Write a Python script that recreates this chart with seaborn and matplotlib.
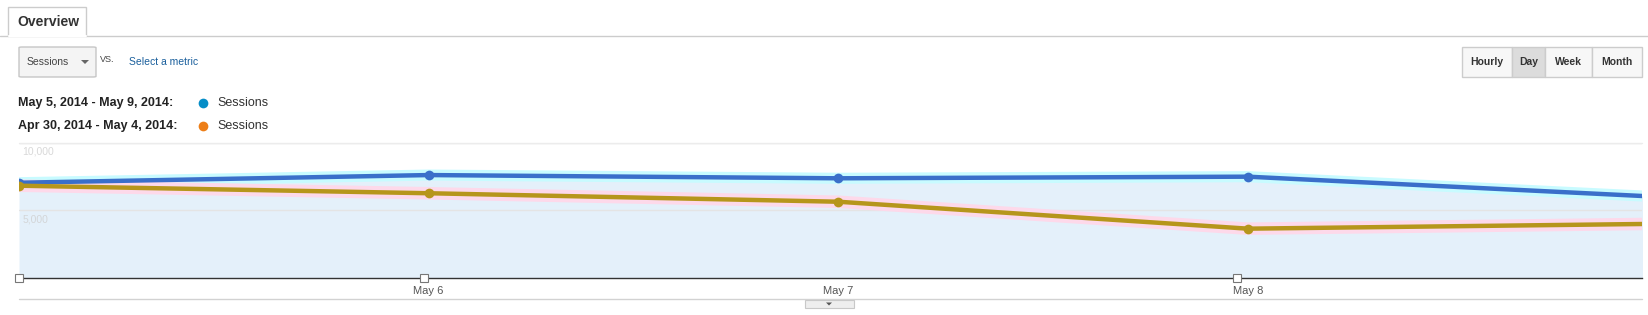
import numpy as np
import pandas as pd
import matplotlib
matplotlib.use("Agg")
import matplotlib.pyplot as plt
import seaborn as sns
from matplotlib.patches import Rectangle, FancyBboxPatch, Polygon
from matplotlib.lines import Line2D

# ---------------- data ----------------
dates = ["2014-05-05", "2014-05-06", "2014-05-07", "2014-05-08", "2014-05-09"]
current_sessions = [7050, 7620, 7380, 7500, 6010]
previous_sessions = [6830, 6270, 5640, 3640, 4000]
x_tick_dates = ["2014-05-06", "2014-05-07", "2014-05-08"]
x_tick_labels = ["May 6", "May 7", "May 8"]
annotation_dates = ["2014-05-05 00:00", "2014-05-05 23:45", "2014-05-07 23:20"]
y_ticks = [5000, 10000]
y_tick_labels = ["5,000", "10,000"]
range_labels = ["May 5, 2014 - May 9, 2014:", "Apr 30, 2014 - May 4, 2014:"]
metric_name = "Sessions"
granularity = ["Hourly", "Day", "Week", "Month"]
selected_granularity = "Day"

W, H = 1648, 315

def fx(x):
    return x / W

def fy(y):
    return 1 - y / H

sns.set_theme(style="white")
plt.rcParams['font.family'] = ['Liberation Sans', 'DejaVu Sans']

df = pd.DataFrame({
    "date": pd.to_datetime(dates),
    "current": current_sessions,
    "previous": previous_sessions,
})

fig = plt.figure(figsize=(W / 100, H / 100), dpi=100)
fig.patch.set_facecolor("white")

# ---------------- chart axes ----------------
ax = fig.add_axes([fx(19), fy(277.7), (1641.7 - 19) / W, (277.7 - 143) / H])
ax.set_facecolor("white")

ax.fill_between(df["date"], df["current"], 0, color="#e4f0fa", zorder=1, linewidth=0)
sns.lineplot(data=df, x="date", y="current", ax=ax, color="#c8fbff", linewidth=8,
             zorder=2, legend=False)
sns.lineplot(data=df, x="date", y="previous", ax=ax, color="#fdd9ea", linewidth=9,
             zorder=2, legend=False)
sns.lineplot(data=df, x="date", y="current", ax=ax, color="#3a6fca", linewidth=3.2,
             marker="o", markersize=7, markeredgewidth=0, zorder=4, legend=False)
sns.lineplot(data=df, x="date", y="previous", ax=ax, color="#b6961b", linewidth=3.2,
             marker="o", markersize=7, markeredgewidth=0, zorder=5, legend=False)

ax.set_xlim(df["date"].iloc[0], df["date"].iloc[3] + pd.Timedelta(days=0.9614))
ax.set_ylim(0, 10000)
ax.set_xlabel("")
ax.set_ylabel("")
ax.set_yticks([])
ax.set_xticks(pd.to_datetime(x_tick_dates))
ax.set_xticklabels(x_tick_labels, fontsize=8, color="#555555")
ax.tick_params(axis="x", length=0, pad=6)
for s in ["top", "left", "right"]:
    ax.spines[s].set_visible(False)
ax.spines["bottom"].set_color("#333333")
ax.spines["bottom"].set_linewidth(1.0)

for yt in y_ticks:
    ax.axhline(yt, color="#e4e4e4", linewidth=1.0, zorder=1.5)
ax.axhline(10000, color="#ececec", linewidth=1.0, zorder=1.5, clip_on=False)
for yt, lab in zip(y_ticks, y_tick_labels):
    ax.text(0.002, yt - 650, lab, transform=ax.get_yaxis_transform(),
            fontsize=7.5, color="#cfcfcf", va="center", ha="left", zorder=6,
            alpha=0.8)

ax.plot(pd.to_datetime(annotation_dates), [0] * len(annotation_dates),
        linestyle="none", marker="s", markersize=6, markerfacecolor="white",
        markeredgecolor="#777777", markeredgewidth=0.8, clip_on=False, zorder=7)

# ---------------- UI chrome ----------------
fig.add_artist(Line2D([0, fx(8)], [fy(36), fy(36)], color="#cccccc", lw=1))
fig.add_artist(Line2D([fx(86), 1], [fy(36), fy(36)], color="#cccccc", lw=1))
fig.add_artist(Rectangle((fx(8), fy(36)), fx(86) - fx(8), fy(7) - fy(36),
                         facecolor="#ffffff", edgecolor="#cccccc", lw=1))
fig.add_artist(Line2D([fx(8.5), fx(85.5)], [fy(36), fy(36)], color="white", lw=1.5))
fig.text(fx(17), fy(22), "Overview", fontsize=10, color="#333333", va="center",
         ha="left", fontweight="bold")

fig.add_artist(FancyBboxPatch((fx(19), fy(77)), fx(96) - fx(19), fy(47) - fy(77),
                              boxstyle="round,pad=0,rounding_size=0.002",
                              facecolor="#f4f4f4", edgecolor="#c6c6c6", lw=1))
fig.text(fx(27), fy(62), metric_name, fontsize=7.5, color="#444444", va="center", ha="left")
fig.add_artist(Polygon([[fx(81), fy(60)], [fx(89), fy(60)], [fx(85), fy(64)]],
                       closed=True, facecolor="#666666", edgecolor="none"))
fig.text(fx(100), fy(59), "VS.", fontsize=6.5, color="#444444", va="center", ha="left")
fig.text(fx(129), fy(62), "Select a metric", fontsize=7.5, color="#1a5f9c", va="center",
         ha="left")

btn_edges = [1462, 1512, 1545, 1592, 1642]
for i, lab in enumerate(granularity):
    x0, x1 = btn_edges[i], btn_edges[i + 1]
    fc = "#dcdcdc" if lab == selected_granularity else "#f7f7f7"
    fig.add_artist(Rectangle((fx(x0), fy(77)), fx(x1) - fx(x0), fy(47) - fy(77),
                             facecolor=fc, edgecolor="#cccccc", lw=1))
    fig.text(fx((x0 + x1) / 2), fy(62), lab, fontsize=7.5, color="#333333",
             va="center", ha="center", fontweight="bold")

legend_colors = ["#058dc7", "#ed7e17"]
for i, (lab, col) in enumerate(zip(range_labels, legend_colors)):
    y = 103 + i * 23
    fig.text(fx(18), fy(y), lab, fontsize=9, color="#222222", va="center", ha="left",
             fontweight="bold")
    fig.add_artist(Line2D([fx(203)], [fy(y)], linestyle="none", marker="o",
                          markersize=7, markerfacecolor=col, markeredgewidth=0))
    fig.text(fx(217), fy(y), metric_name, fontsize=9, color="#333333", va="center",
             ha="left")

fig.add_artist(Line2D([fx(19), fx(1642)], [fy(299), fy(299)], color="#d2d2d2", lw=1))
fig.add_artist(Rectangle((fx(805), fy(308)), fx(854) - fx(805), fy(300) - fy(308),
                         facecolor="#eeeeee", edgecolor="#c8c8c8", lw=0.8))
fig.add_artist(Polygon([[fx(826), fy(302.5)], [fx(832), fy(302.5)], [fx(829), fy(305.5)]],
                       closed=True, facecolor="#555555", edgecolor="none"))

fig.savefig("out.png", dpi=100, facecolor="white")
